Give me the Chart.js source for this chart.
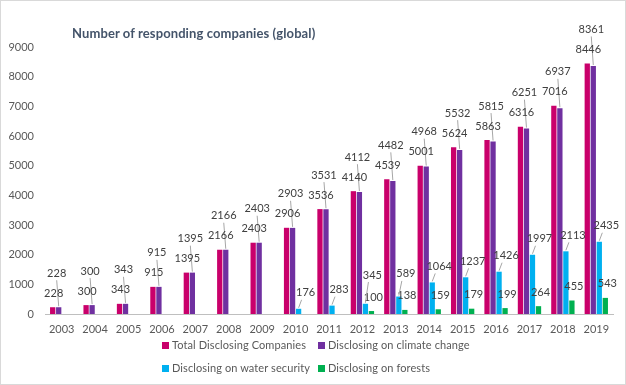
<!DOCTYPE html>
<html>
<head>
<meta charset="utf-8">
<script src="https://cdn.jsdelivr.net/npm/chart.js@4"></script>
<style>
  html, body { margin: 0; padding: 0; background: #fff; }
  #wrap { position: relative; width: 626px; height: 385px; box-sizing: border-box; border: 1px solid #d9d9d9; overflow: hidden; }
  #c { position: absolute; left: -1px; top: -1px; }
  #title { position: absolute; left: 71px; top: 24px; font: bold 13px Lato, "Open Sans", sans-serif; color: #44546A; white-space: nowrap; letter-spacing: 0.1px; }
  .lg { position: absolute; font: 11px Lato, "Open Sans", sans-serif; color: #595959; white-space: nowrap; line-height: 14px; letter-spacing: 0.1px; }
  .lg i { display: inline-block; width: 7px; height: 7px; margin-right: 3px; vertical-align: 0px; }
</style>
</head>
<body>
<div id="wrap">
  <canvas id="c" width="626" height="385"></canvas>
  <div id="title">Number of responding companies (global)</div>
  <div id="legend"></div>
</div>
<script>
const years = ['2003','2004','2005','2006','2007','2008','2009','2010','2011','2012','2013','2014','2015','2016','2017','2018','2019'];
const totalCompanies = [228, 300, 343, 915, 1395, 2166, 2403, 2906, 3536, 4140, 4539, 5001, 5624, 5863, 6316, 7016, 8446];
const climateChange  = [228, 300, 343, 915, 1395, 2166, 2403, 2903, 3531, 4112, 4482, 4968, 5532, 5815, 6251, 6937, 8361];
const waterSecurity  = [null, null, null, null, null, null, null, 176, 283, 345, 589, 1064, 1237, 1426, 1997, 2113, 2435];
const forests        = [null, null, null, null, null, null, null, null, null, 100, 138, 159, 179, 199, 264, 455, 543];
const seriesNames = ['Total Disclosing Companies', 'Disclosing on climate change', 'Disclosing on water security', 'Disclosing on forests'];
const seriesColors = ['#C9006B', '#7030A0', '#00B0F0', '#00B050'];
const yTicks = [0, 1000, 2000, 3000, 4000, 5000, 6000, 7000, 8000, 9000];

const labelFont = '11px Lato, "Open Sans", sans-serif';
const labelColor = '#404040';
const leaderColor = '#a6a6a6';

const labelsPlugin = {
  id: 'excelLabels',
  afterDatasetsDraw(chart) {
    const ctx = chart.ctx;
    const mT = chart.getDatasetMeta(0), mC = chart.getDatasetMeta(1), mW = chart.getDatasetMeta(2), mF = chart.getDatasetMeta(3);
    ctx.save();
    ctx.font = labelFont;
    ctx.textAlign = 'center';
    ctx.textBaseline = 'middle';
    const line = (x1, y1, x2, y2) => {
      ctx.strokeStyle = leaderColor; ctx.lineWidth = 1;
      ctx.beginPath(); ctx.moveTo(x1, y1); ctx.lineTo(x2, y2); ctx.stroke();
    };
    const text = (t, x, y) => { ctx.fillStyle = labelColor; ctx.fillText(String(t), x, y); };
    years.forEach((yr, i) => {
      const bT = mT.data[i], bC = mC.data[i];
      const pairX = (bT.x + bC.x) / 2;
      const lowerY = bT.y - 14;
      const upperY = lowerY - 20;
      line(pairX + 1, upperY + 7, bC.x, bC.y - 1);
      text(totalCompanies[i], pairX - 2, lowerY);
      text(climateChange[i], pairX + 1, upperY);
      let fy = null;
      if (forests[i] != null) {
        const bF = mF.data[i];
        fy = bF.y - 14;
        text(forests[i], bF.x + 2, fy);
      }
      if (waterSecurity[i] != null) {
        const bW = mW.data[i];
        let wy = bW.y - 16;
        const wx = bW.x + 7;
        if (fy != null && wy > fy - 17) wy = fy - 22;
        if (bW.y - (wy + 7) > 8) line(wx - 4, wy + 7, bW.x, bW.y - 1);
        text(waterSecurity[i], wx, wy);
      }
    });
    ctx.restore();
  }
};

const datasets = [totalCompanies, climateChange, waterSecurity, forests].map((d, k) => ({
  label: seriesNames[k],
  data: d,
  backgroundColor: seriesColors[k],
  borderWidth: 0,
  categoryPercentage: 0.72,
  barPercentage: 0.88
}));

new Chart(document.getElementById('c'), {
  type: 'bar',
  data: { labels: years, datasets },
  options: {
    responsive: false,
    animation: false,
    events: [],
    layout: { padding: { top: 47, right: 13, bottom: 0, left: 0 } },
    plugins: { legend: { display: false }, title: { display: false }, tooltip: { enabled: false } },
    scales: {
      x: {
        grid: { display: false, drawTicks: false },
        border: { display: true, color: '#bfbfbf', width: 1 },
        ticks: { color: '#595959', font: { family: 'Lato, "Open Sans", sans-serif', size: 11 }, padding: 9, maxRotation: 0, autoSkip: false },
        afterFit(s) { s.height = 71; }
      },
      y: {
        min: 0, max: 9000,
        afterBuildTicks(s) { s.ticks = yTicks.map(v => ({ value: v })); },
        grid: { display: false, drawTicks: false },
        border: { display: false },
        ticks: { color: '#595959', font: { family: 'Lato, "Open Sans", sans-serif', size: 11 }, padding: 11, callback: v => String(v) },
        afterFit(s) { s.width = 45; }
      }
    }
  },
  plugins: [labelsPlugin]
});

const legendPos = [[161, 337], [317, 337], [161, 360], [317, 360]];
const lg = document.getElementById('legend');
seriesNames.forEach((n, k) => {
  const d = document.createElement('div');
  d.className = 'lg';
  d.style.left = legendPos[k][0] + 'px';
  d.style.top = legendPos[k][1] + 'px';
  d.innerHTML = '<i style="background:' + seriesColors[k] + '"></i>' + n;
  lg.appendChild(d);
});
</script>
</body>
</html>
